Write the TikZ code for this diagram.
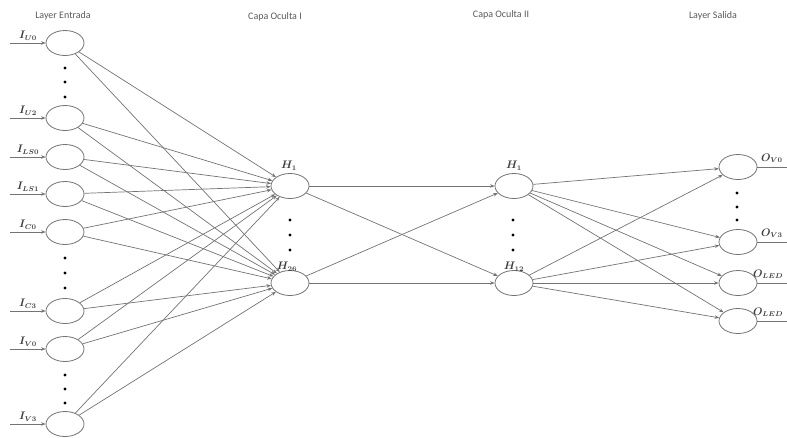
\documentclass[tikz,border=0pt]{standalone}
\usepackage{fontspec}
\newfontfamily\titlefont{Carlito}
\usetikzlibrary{shapes.geometric,arrows.meta}
\begin{document}
\begin{tikzpicture}[x=1pt,y=-1pt,
  neuron/.style={ellipse,draw=black!55,line width=0.8pt,minimum width=38pt,minimum height=25pt,inner sep=0pt},
  conn/.style={draw=black!55,line width=0.7pt,-{Stealth[length=4.5pt,width=3.5pt]}},
  plain/.style={draw=black!55,line width=0.7pt},
  title/.style={font=\titlefont\fontsize{10}{12}\selectfont,text=black!65},
  lbl/.style={font=\fontsize{10.5}{12}\selectfont\boldmath,text=black!75,inner sep=0pt},
  vdot/.style={circle,fill=black,inner sep=0pt,minimum size=3.4pt}]
\useasboundingbox (0,0) rectangle (787,437);
% titles
\node[title] (t1) at (63,16) {Layer Entrada};
\node[title] (t2) at (275,17) {Capa Oculta I};
\node[title] (t3) at (501,15) {Capa Oculta II};
\node[title] (t4) at (713,16) {Layer Salida};
% input nodes
\foreach \n/\y/\t in {iu0/43/{U0},iu2/118/{U2},ils0/157/{LS0},ils1/194/{LS1},ic0/232/{C0},ic3/311/{C3},iv0/349/{V0},iv3/424/{V3}}{
  \node[neuron] (\n) at (65,\y) {};
  \coordinate (\n s) at (10,\y);
  \draw[conn] (\n s) -- (\n);
  \node[lbl] (\n l) at (28,\y-7) {$I_{\t}$};
}
% dots input
\foreach \y [count=\i] in {68,82,97}{\node[vdot] (da\i) at (65,\y) {};}
\foreach \y [count=\i] in {258,273,288}{\node[vdot] (db\i) at (65,\y) {};}
\foreach \y [count=\i] in {375,389,403}{\node[vdot] (dc\i) at (65,\y) {};}
% hidden 1
\node[neuron] (ha) at (290,186) {};
\node[neuron] (hb) at (290,283) {};
\node[lbl] (hal) at (289,166) {$H_{1}$};
\node[lbl] (hbl) at (287,267) {$H_{26}$};
\foreach \y [count=\i] in {220,235,250}{\node[vdot] (dh\i) at (290,\y) {};}
% hidden 2
\node[neuron] (ga) at (514,186) {};
\node[neuron] (gb) at (514,283) {};
\node[lbl] (gal) at (514,166) {$H_{1}$};
\node[lbl] (gbl) at (514,267) {$H_{12}$};
\foreach \y [count=\i] in {220,235,250}{\node[vdot] (dg\i) at (513,\y) {};}
% outputs
\foreach \n/\y in {ov0/167,ov3/242,ol0/283,ol1/321}{
  \node[neuron] (\n) at (738,\y) {};
  \coordinate (\n e) at (787,\y);
  \draw[plain] (\n) -- (\n e);
}
\node[lbl,anchor=south west] (ov0l) at (761,163) {$O_{V0}$};
\node[lbl,anchor=south west] (ov3l) at (761,238) {$O_{V3}$};
\node[lbl,anchor=south west] (ol0l) at (753,279) {$O_{LED}$};
\node[lbl,anchor=south west] (ol1l) at (753,317) {$O_{LED}$};
\foreach \y [count=\i] in {193,207,220}{\node[vdot] (do\i) at (737,\y) {};}
% connections
\foreach \a in {iu0,iu2,ils0,ils1,ic0,ic3,iv0,iv3}{
  \draw[conn] (\a) -- (ha);
  \draw[conn] (\a) -- (hb);
}
\foreach \a in {ha,hb}{
  \draw[conn] (\a) -- (ga);
  \draw[conn] (\a) -- (gb);
}
\foreach \b in {ov0,ov3,ol0,ol1}{
  \draw[conn] (ga) -- (\b);
  \draw[conn] (gb) -- (\b);
}
\end{tikzpicture}
\end{document}
